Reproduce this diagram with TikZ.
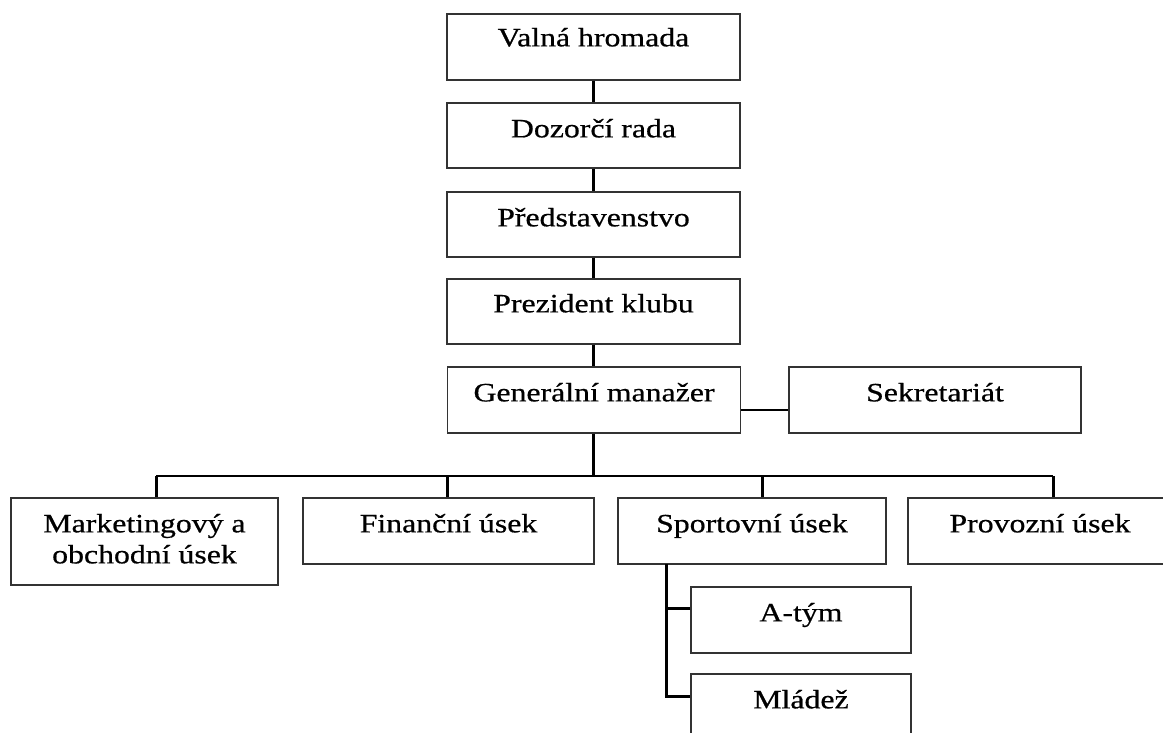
\documentclass[tikz,border=0pt]{standalone}
\usepackage{fontspec}
\setmainfont{Liberation Serif}[FakeStretch=1.2,FakeBold=0.6]
\begin{document}
\begin{tikzpicture}[x=1pt,y=-1pt,
  box/.style={draw=black!80, line width=1.3pt, rectangle, inner sep=0pt, fill=white},
  txt/.style={anchor=base, inner sep=0pt, font=\fontsize{26.5}{31}\selectfont},
  conn/.style={line width=3pt, black}]
\useasboundingbox (0,0) rectangle (1163,733);
% boxes
\node[box, minimum width=293pt, minimum height=66pt] (valna) at (593.5,47) {};
\node[box, minimum width=293pt, minimum height=65pt] (dozor) at (593.5,135.5) {};
\node[box, minimum width=293pt, minimum height=65pt] (pred) at (593.5,224.5) {};
\node[box, minimum width=293pt, minimum height=65pt] (prez) at (593.5,311.5) {};
\node[box, minimum width=293pt, minimum height=66pt] (gm) at (594,400) {};
\node[box, minimum width=292pt, minimum height=66pt] (sekr) at (935,400) {};
\node[box, minimum width=267pt, minimum height=87pt] (mark) at (144.5,541.5) {};
\node[box, minimum width=291pt, minimum height=66pt] (fin) at (448.5,531) {};
\node[box, minimum width=268pt, minimum height=66pt] (sport) at (752,531) {};
\node[box, minimum width=264pt, minimum height=66pt] (prov) at (1040,531) {};
\node[box, minimum width=220pt, minimum height=66pt] (atym) at (801,620) {};
\node[box, minimum width=220pt, minimum height=66pt] (mladez) at (801,707) {};
% texts
\node[txt] (valnaT) at ([yshift=-33pt]valna.north) {Valná hromada};
\node[txt] (dozorT) at ([yshift=-35pt]dozor.north) {Dozorčí rada};
\node[txt] (predT) at ([yshift=-35pt]pred.north) {Představenstvo};
\node[txt] (prezT) at ([yshift=-34pt]prez.north) {Prezident klubu};
\node[txt] (gmT) at ([yshift=-35pt]gm.north) {Generální manažer};
\node[txt] (sekrT) at ([yshift=-35pt]sekr.north) {Sekretariát};
\node[txt] (markT1) at ([yshift=-35pt]mark.north) {Marketingový a};
\node[txt] (markT2) at ([yshift=-66pt]mark.north) {obchodní úsek};
\node[txt] (finT) at ([yshift=-35pt]fin.north) {Finanční úsek};
\node[txt] (sportT) at ([yshift=-35pt]sport.north) {Sportovní úsek};
\node[txt] (provT) at ([yshift=-35pt]prov.north) {Provozní úsek};
\node[txt] (atymT) at ([yshift=-35pt]atym.north) {A-tým};
\node[txt] (mladezT) at ([yshift=-35pt]mladez.north) {Mládež};
% connectors
\draw[conn] (valna.south) -- (dozor.north);
\draw[conn] (dozor.south) -- (pred.north);
\draw[conn] (pred.south) -- (prez.north);
\draw[conn] (prez.south) -- (prez.south |- gm.north);
\coordinate (d1) at (156,476);
\coordinate (d2) at (447,476);
\coordinate (d3) at (762,476);
\coordinate (d4) at (1053,476);
\draw[conn] (prez.south |- gm.south) -- (prez.south |- d1);
\draw[line width=2.5pt] (d1) -- (d4);
\draw[conn] (d1) -- (d1 |- mark.north);
\draw[conn] (d2) -- (d2 |- fin.north);
\draw[conn] (d3) -- (d3 |- sport.north);
\draw[conn] (d4) -- (d4 |- prov.north);
\draw[line width=2.5pt] ([yshift=-10pt]gm.east) -- ([yshift=-10pt]sekr.west);
\coordinate (s1) at (666,564);
\draw[conn] (s1) |- ([yshift=11pt]mladez.west);
\draw[conn] ([yshift=12pt]atym.west) -- ([yshift=12pt]atym.west -| s1);
\end{tikzpicture}
\end{document}
